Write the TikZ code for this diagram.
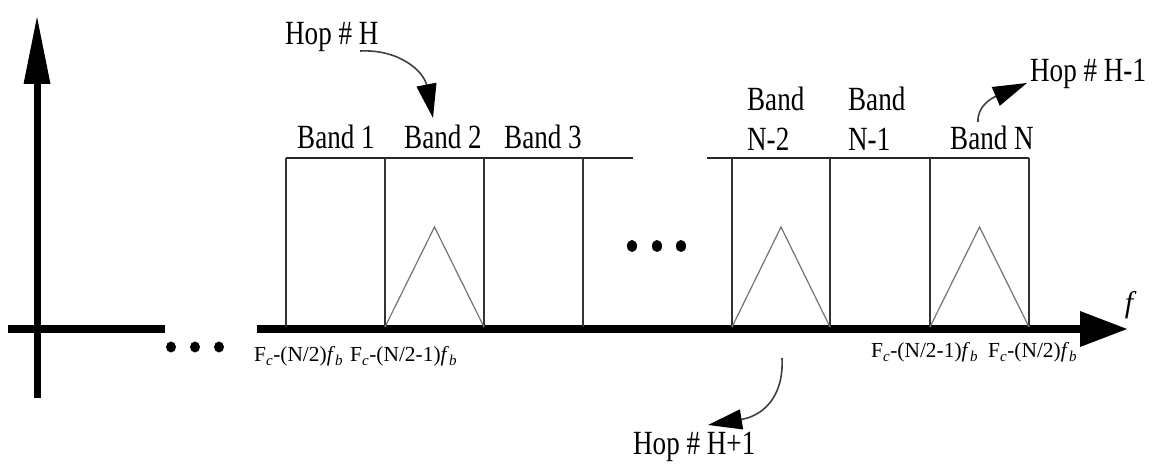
\documentclass[tikz,border=0pt]{standalone}
\usepackage{fontspec}
\setmainfont{Liberation Serif}
\usetikzlibrary{arrows.meta}
\begin{document}
\begin{tikzpicture}[x=1bp,y=-1bp,
  lbl/.style={inner sep=0pt, font=\fontsize{34}{40}\selectfont, xscale=0.8},
  flbl/.style={inner sep=0pt, font=\fontsize{21.5}{24}\selectfont},
  bandline/.style={line width=1.5bp, draw=black!80},
  topline/.style={line width=2bp, draw=black!85},
  tri/.style={line width=1.2bp, draw=black!55},
  hop/.style={line width=1.6bp, draw=black!75, -{Triangle[length=34bp,width=20bp,color=black,fill=black]}},
  bigdot/.style={fill=black}]
\useasboundingbox (0,0) rectangle (1153,464);

% vertical axis
\draw[line width=7bp] (37,398) -- (37,80);
\fill (37,17) -- (23.5,84) -- (50.5,84) -- cycle;
% left horizontal segment
\draw[line width=8bp] (8,329) -- (165,329);
\foreach \x in {171,195,219} \fill[bigdot] (\x,347) ellipse (5bp and 5.5bp);

% main frequency axis
\draw[line width=8bp] (257,329) -- (1082,329);
\fill (1127,329) -- (1080,311) -- (1080,347) -- cycle;
\node[inner sep=0pt, font=\fontsize{30}{30}\selectfont\itshape] (f) at (1129,305) {f};

% band boxes
\draw[topline] (286,158) -- (633,158);
\draw[topline] (707,158) -- (1029,158);
\foreach \x in {286,385,484,583,732,830,930,1029}
  \draw[bandline] (\x,158) -- (\x,327);

% triangles
\draw[tri] (385,327) -- (434.5,227) -- (484,327);
\draw[tri] (732,327) -- (781,227) -- (830,327);
\draw[tri] (930,327) -- (979.5,227) -- (1029,327);

% middle dots
\foreach \x in {632,657,681} \fill[bigdot] (\x,246) ellipse (5bp and 6bp);

% band labels
\node[lbl, anchor=base] (b1) at (336,149) {Band 1};
\node[lbl, anchor=base] (b2) at (443,149) {Band 2};
\node[lbl, anchor=base] (b3) at (543,149) {Band 3};
\node[lbl, anchor=north west, align=left] (bn2) at (747,87) {Band\\N-2};
\node[lbl, anchor=north west, align=left] (bn1) at (848,87) {Band\\N-1};
\node[lbl, anchor=base] (bn) at (992,150) {Band N};

% hop labels
\node[lbl, anchor=base west] (hh) at (285,45) {Hop \# H};
\node[lbl, anchor=base west] (hm) at (1030,82) {Hop \# H-1};
\node[lbl, anchor=base west] (hp) at (633,455) {Hop \# H+1};

% frequency labels
\node[flbl, anchor=base west] (l1) at (254,362) {F\textsubscript{\itshape c}-(N/2)\textit{f}\textsubscript{\itshape b}};
\node[flbl, anchor=base west] (l2) at (350,362) {F\textsubscript{\itshape c}-(N/2-1)\textit{f}\textsubscript{\itshape b}};
\node[flbl, anchor=base west] (r1) at (871,358) {F\textsubscript{\itshape c}-(N/2-1)\textit{f}\textsubscript{\itshape b}};
\node[flbl, anchor=base west] (r2) at (988,358) {F\textsubscript{\itshape c}-(N/2)\textit{f}\textsubscript{\itshape b}};

% hop arrows
\coordinate (hhs) at (360,51);
\coordinate (hht) at (433,118);
\draw[hop] (hhs) .. controls (400,49) and (424,72) .. (hht);
\coordinate (hms) at (978,122);
\coordinate (hmt) at (1027,83);
\draw[hop] (hms) .. controls (977,106) and (992,98) .. (hmt);
\coordinate (hps) at (782,358);
\coordinate (hpt) at (708,425);
\draw[hop] (hps) .. controls (784,398) and (762,416) .. (hpt);
\end{tikzpicture}
\end{document}
